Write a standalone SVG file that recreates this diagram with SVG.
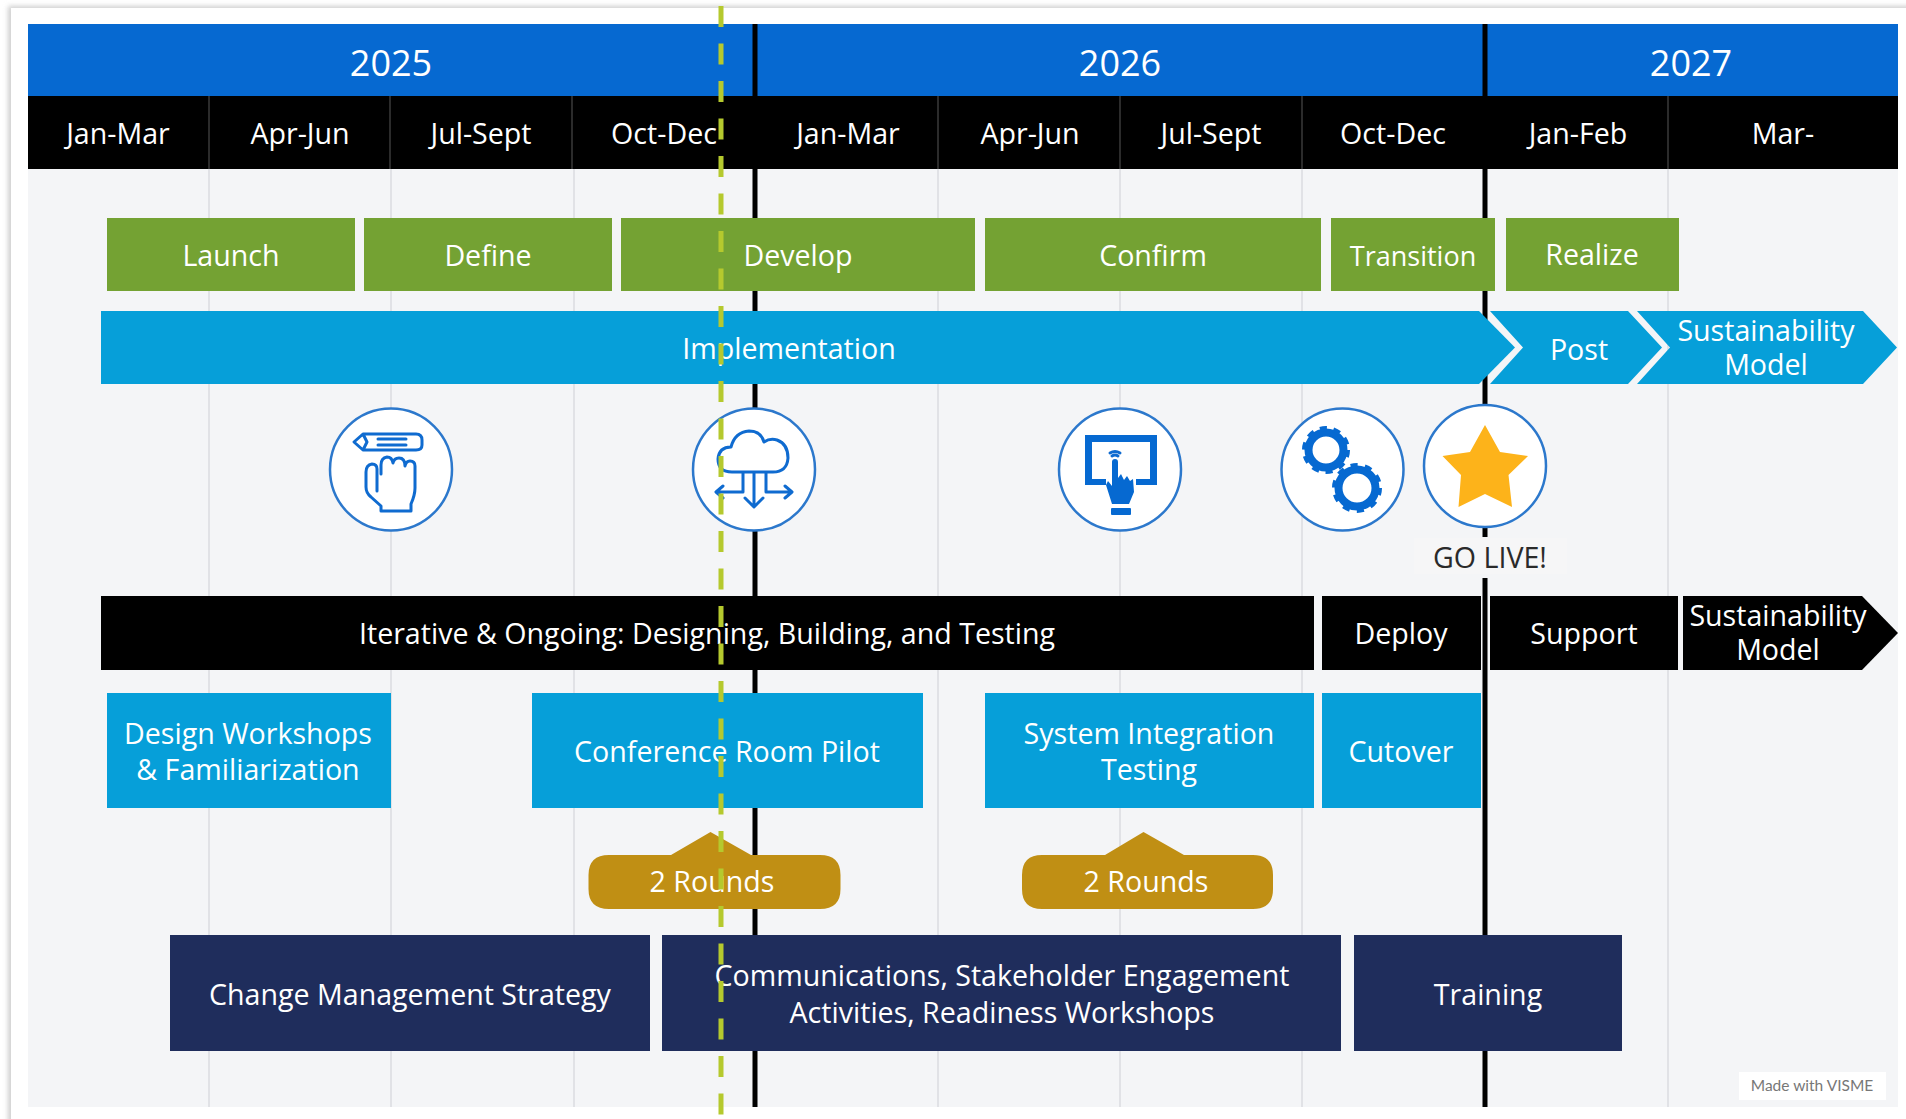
<svg xmlns="http://www.w3.org/2000/svg" width="1906" height="1119" viewBox="0 0 1906 1119">
<style>
text{font-family:"Open Sans","Noto Sans","Liberation Sans",sans-serif;font-size:28.6px;fill:#fff;text-anchor:middle}
.yr{font-size:36px}
.grid{stroke:#e1e2e6;stroke-width:2;fill:none}
.sep{stroke:#3a3a3a;stroke-width:1.5}
.mile{stroke:#000;stroke-width:5;fill:none}
.green{fill:#74a233}.sky{fill:#069fd9}.navy{fill:#1f2d5c}.gold{fill:#c08f14}.blk{fill:#000}
.ring{fill:#fff;stroke:#2c78cc;stroke-width:2.5}
.ico{fill:none;stroke:#0f6bd0;stroke-width:3;stroke-linecap:round;stroke-linejoin:round}
.solid{fill:#0669d1}
</style>
<defs>
<filter id="card" x="-2%" y="-2%" width="104%" height="104%"><feGaussianBlur stdDeviation="2.5"/></filter>
<filter id="soft" x="-300%" y="-2%" width="700%" height="104%"><feGaussianBlur stdDeviation="1.6"/></filter>
</defs>
<rect width="1906" height="1119" fill="#fff"/>
<rect x="8" y="6" width="1920" height="1130" fill="#cfcfcf" filter="url(#card)"/>
<rect x="11" y="8" width="1895" height="1111" fill="#fff"/>
<rect x="28" y="24" width="1870" height="1083" fill="#f4f5f7"/>
<g id="grid">
<path class="grid" d="M209 169V1107M391 169V1107M574 169V1107M938 169V1107M1120 169V1107M1302 169V1107M1668 169V1107"/>
</g>
<g id="timeline-header">
<rect x="28" y="24" width="1870" height="72" fill="#0669d1"/>
<rect x="28" y="96" width="1870" height="73" fill="#000"/>
<path class="sep" d="M209 96V169M390 96V169M572 96V169M938 96V169M1120 96V169M1302 96V169M1668 96V169"/>
<text class="yr" x="391" y="76">2025</text><text class="yr" x="1120" y="76">2026</text><text class="yr" x="1691" y="76">2027</text>
<text x="118" y="144">Jan-Mar</text><text x="300" y="144">Apr-Jun</text><text x="481" y="144">Jul-Sept</text><text x="664" y="144">Oct-Dec</text>
<text x="848" y="144">Jan-Mar</text><text x="1030" y="144">Apr-Jun</text><text x="1211" y="144">Jul-Sept</text><text x="1393" y="144">Oct-Dec</text>
<text x="1578" y="144">Jan-Feb</text><text x="1783" y="144">Mar-</text>
</g>
<g id="connectors">
<path class="mile" d="M755 24V1107"/>
<path class="mile" d="M1485 24V537M1485 578V1107"/>
</g>
<g id="launch"><rect class="green" x="107" y="218" width="248" height="73"/><text x="231" y="266">Launch</text></g>
<g id="define"><rect class="green" x="364" y="218" width="248" height="73"/><text x="488" y="266">Define</text></g>
<g id="develop"><rect class="green" x="621" y="218" width="354" height="73"/><text x="798" y="266">Develop</text></g>
<g id="confirm"><rect class="green" x="985" y="218" width="336" height="73"/><text x="1153" y="266">Confirm</text></g>
<g id="transition"><rect class="green" x="1331" y="218" width="164" height="73"/><text x="1413" y="266" style="font-size:27px">Transition</text></g>
<g id="realize"><rect class="green" x="1506" y="218" width="173" height="73"/><text x="1592" y="265">Realize</text></g>
<g id="implementation"><path class="sky" d="M101 311H1479L1515 347.500L1479 384H101Z"/><text x="789" y="359">Implementation</text></g>
<g id="post"><path class="sky" d="M1490 311H1628L1662 347.500L1628 384H1490L1523 347.500Z"/><text x="1579" y="360">Post</text></g>
<g id="sustainability-top"><path class="sky" d="M1637 311H1863L1897 347.500L1863 384H1637L1670 347.500Z"/><text x="1766" y="341">Sustainability<tspan x="1766" y="375">Model</tspan></text></g>
<g id="icon-design"><circle class="ring" cx="391" cy="469.500" r="61"/>
<path class="ico" d="M354 442L363 434H416Q422 434 422 440V445Q422 450 416 450H363ZM378 439H406M378 445H406M363 434L367 442L363 450"/>
<path class="ico" d="M377 491V469Q377 464 372 464Q366 465 366 472V487Q366 493 371 497L381 506V511H411V504Q415 495 415 488V466Q415 461 410 461Q406 461 405 466Q405 458 399 458Q394 458 393 463Q392 457 387 457Q381 458 381 465V474"/>
</g>
<g id="icon-cloud"><circle class="ring" cx="754" cy="469.500" r="61"/>
<path class="ico" d="M732 472Q718 472 718 459Q719 447 731 447Q735 432 749 431Q761 431 764 442Q770 438 777 440Q788 444 788 458Q787 472 773 472ZM754 472V506M745 498L754 507L763 498M743 472V492H717M723 486L716 492L723 498M766 472V492H791M785 486L792 492L785 498"/>
</g>
<g id="icon-touch"><circle class="ring" cx="1120" cy="469.500" r="61"/>
<path class="solid" d="M1085 435H1157V485H1136V479H1150V442H1092V479H1106V485H1085Z"/>
<path class="solid" d="M1112 462Q1112 459 1115 459Q1118 459 1118 462V478L1121 474L1124 480L1127 476L1130 481L1133 479L1134 492L1129 504H1112L1106 485L1108 481L1112 486Z"/>
<rect class="solid" x="1111" y="508" width="20" height="7" rx="1"/>
<path class="ico" d="M1110 453Q1115 450 1120 453M1112 456Q1115 454 1118 456" stroke-width="1.500"/>
</g>
<g id="icon-gears"><circle class="ring" cx="1342.500" cy="469.500" r="61"/>
<g fill="none" stroke="#0669d1">
<circle cx="1326" cy="450" r="17.500" stroke-width="8"/><circle cx="1326" cy="450" r="21.500" stroke-width="5" stroke-dasharray="7 6.510"/>
<circle cx="1357" cy="488" r="18.500" stroke-width="8"/><circle cx="1357" cy="488" r="22.500" stroke-width="5" stroke-dasharray="7 7.140"/>
</g></g>
<g id="go-live"><circle class="ring" cx="1485" cy="466" r="61"/>
<polygon fill="#fdb31a" points="1485,425 1500,452 1528,456 1508.500,475 1512,507 1485,494 1458.500,507 1461,475 1442.500,456 1470,452"/>
<rect x="1414" y="538" width="153" height="36" fill="#f6f6f7"/>
<text x="1490" y="568" style="fill:#2a2a2a">GO LIVE!</text></g>
<g id="iterative"><rect class="blk" x="101" y="596" width="1213" height="74"/><text x="707" y="644">Iterative &amp; Ongoing: Designing, Building, and Testing</text></g>
<g id="deploy"><rect class="blk" x="1322" y="596" width="159" height="74"/><text x="1401" y="644">Deploy</text></g>
<g id="support"><rect class="blk" x="1490" y="596" width="188" height="74"/><text x="1584" y="644">Support</text></g>
<g id="sustainability-bottom"><path class="blk" d="M1683 596H1862L1898 633L1862 670H1683Z"/><text x="1778" y="626">Sustainability<tspan x="1778" y="660">Model</tspan></text></g>
<g id="design-workshops"><rect class="sky" x="107" y="693" width="284" height="115"/><text x="248" y="744">Design Workshops<tspan x="248" y="780">&amp; Familiarization</tspan></text></g>
<g id="crp"><rect class="sky" x="532" y="693" width="391" height="115"/><text x="727" y="762">Conference Room Pilot</text></g>
<g id="sit"><rect class="sky" x="985" y="693" width="329" height="115"/><text x="1149" y="744">System Integration<tspan x="1149" y="780">Testing</tspan></text></g>
<g id="cutover"><rect class="sky" x="1322" y="693" width="159" height="115"/><text x="1401" y="762">Cutover</text></g>
<g id="rounds-1"><path class="gold" d="M609 855H671L710.500 832L751 855H820Q840.500 855 840.500 875V889Q840.500 909 820 909H609Q588.500 909 588.500 889V875Q588.500 855 609 855Z"/><text x="712" y="892">2 Rounds</text></g>
<g id="rounds-2"><path class="gold" d="M1042 855H1105L1143.500 832L1184 855H1253Q1273 855 1273 875V889Q1273 909 1253 909H1042Q1022 909 1022 889V875Q1022 855 1042 855Z"/><text x="1146" y="892">2 Rounds</text></g>
<g id="change"><rect class="navy" x="170" y="935" width="480" height="116"/><text x="410" y="1005">Change Management Strategy</text></g>
<g id="communications"><rect class="navy" x="662" y="935" width="679" height="116"/><text x="1002" y="986">Communications, Stakeholder Engagement<tspan x="1002" y="1023">Activities, Readiness Workshops</tspan></text></g>
<g id="training"><rect class="navy" x="1354" y="935" width="268" height="116"/><text x="1488" y="1005">Training</text></g>
<g id="credit"><rect x="1739" y="1072" width="147" height="28" fill="#fff"/><text x="1812" y="1091" style="font-size:15.500px;fill:#777;font-family:Lato,'Open Sans',sans-serif">Made with VISME</text></g>
<g id="today-marker" fill="none">
<path d="M721 12V1119" stroke="#8a8a8a" stroke-width="6" stroke-dasharray="21 16.500" opacity=".75" filter="url(#soft)"/>
<path d="M721 6V1119" stroke="#b5c92e" stroke-width="5" stroke-dasharray="21 16.500"/>
</g>
</svg>
